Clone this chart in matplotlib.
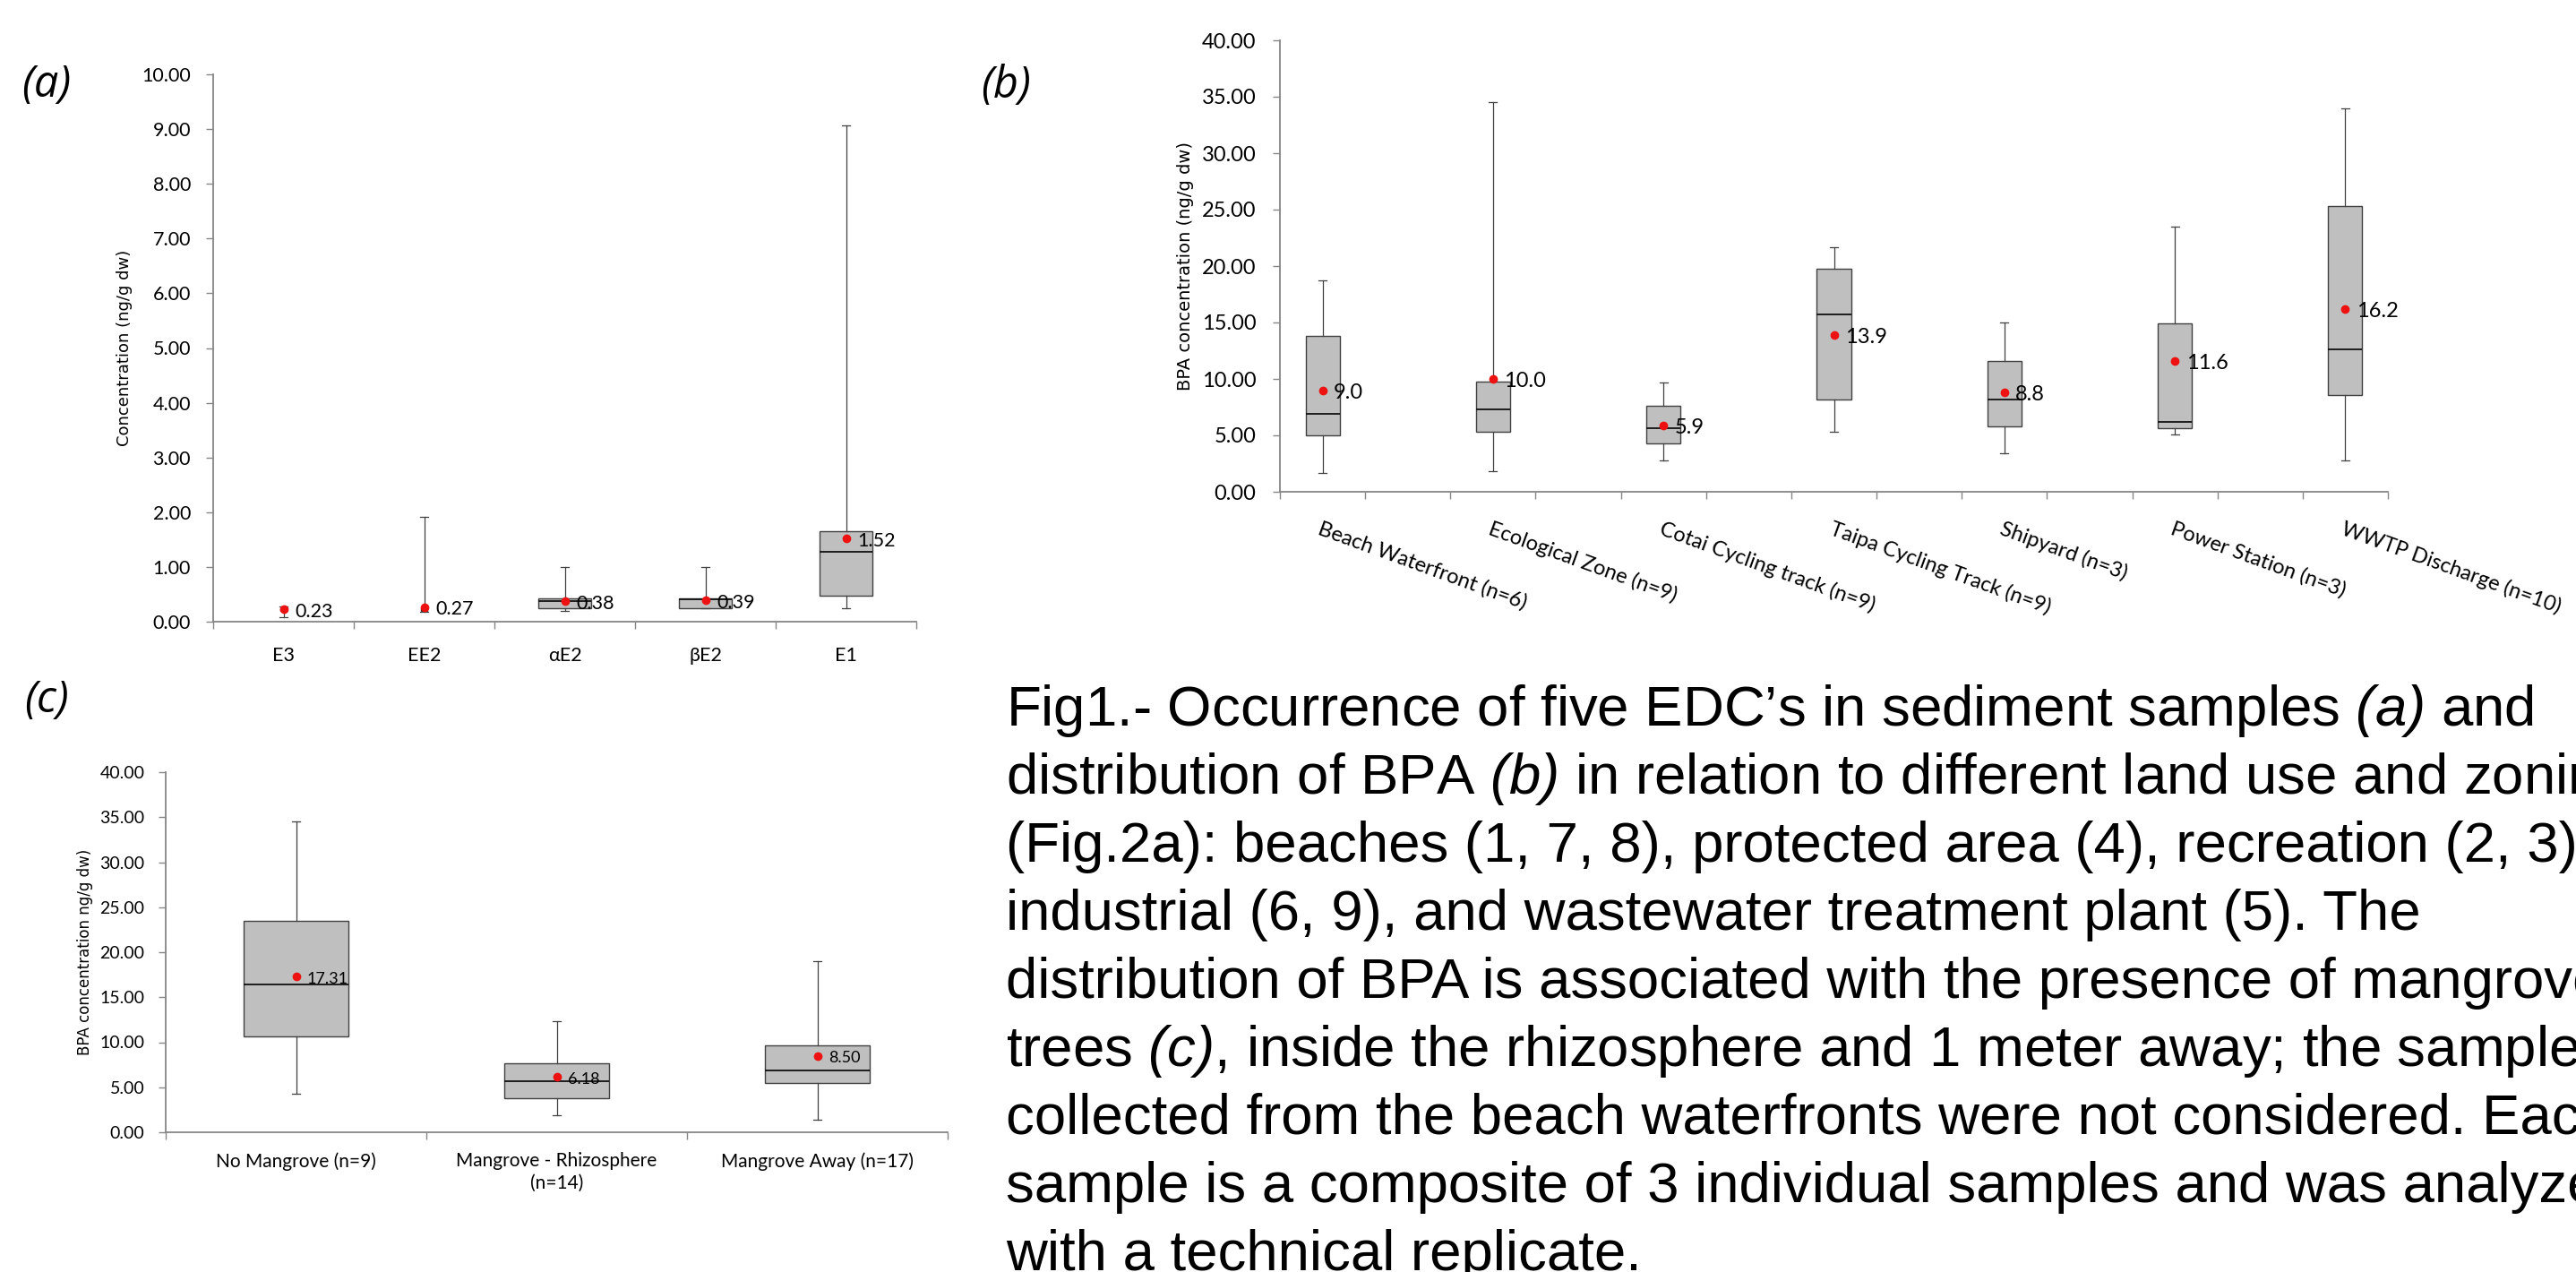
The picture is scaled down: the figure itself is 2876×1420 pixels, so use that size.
import numpy as np
import matplotlib
matplotlib.use("Agg")
import matplotlib.pyplot as plt

# panel (a) - five EDCs
a_labels = ["E3", "EE2", "αE2", "βE2", "E1"]
a_min = [0.08, 0.18, 0.20, 0.24, 0.25]
a_q1 = [0.20, 0.20, 0.24, 0.24, 0.48]
a_med = [0.22, 0.22, 0.38, 0.41, 1.27]
a_q3 = [0.25, 0.25, 0.43, 0.43, 1.66]
a_max = [0.28, 1.91, 1.00, 1.00, 9.06]
a_mean = [0.23, 0.27, 0.38, 0.39, 1.52]

# panel (b) - BPA by land use
b_labels = ["Beach Waterfront (n=6)", "Ecological Zone (n=9)", "Cotai Cycling track (n=9)",
            "Taipa Cycling Track (n=9)", "Shipyard (n=3)", "Power Station (n=3)",
            "WWTP Discharge (n=10)"]
b_min = [1.7, 1.8, 2.8, 5.3, 3.4, 5.1, 2.8]
b_q1 = [5.0, 5.3, 4.3, 8.2, 5.8, 5.6, 8.6]
b_med = [6.9, 7.3, 5.6, 15.7, 8.2, 6.2, 12.6]
b_q3 = [13.8, 9.8, 7.6, 19.8, 11.6, 14.9, 25.3]
b_max = [18.7, 34.5, 9.7, 21.7, 15.0, 23.5, 34.0]
b_mean = [9.0, 10.0, 5.9, 13.9, 8.8, 11.6, 16.2]

# panel (c) - BPA and mangroves
c_labels = ["No Mangrove (n=9)", "Mangrove - Rhizosphere\n(n=14)", "Mangrove Away (n=17)"]
c_min = [4.3, 1.9, 1.4]
c_q1 = [10.6, 3.8, 5.5]
c_med = [16.4, 5.7, 6.9]
c_q3 = [23.5, 7.7, 9.7]
c_max = [34.5, 12.3, 19.0]
c_mean = [17.31, 6.18, 8.50]

caption = [
    r"Fig1.- Occurrence of five EDC’s in sediment samples $(a)$ and",
    r"distribution of BPA $(b)$ in relation to different land use and zoning",
    r"(Fig.2a): beaches (1, 7, 8), protected area (4), recreation (2, 3),",
    r"industrial (6, 9), and wastewater treatment plant (5). The",
    r"distribution of BPA is associated with the presence of mangrove",
    r"trees $(c)$, inside the rhizosphere and 1 meter away; the samples",
    r"collected from the beach waterfronts were not considered. Each",
    r"sample is a composite of 3 individual samples and was analyzed",
    r"with a technical replicate.",
]

# the $...$ parts of the caption are the italic panel references
plt.rcParams["mathtext.fontset"] = "custom"
plt.rcParams["mathtext.rm"] = "Liberation Sans:italic"
plt.rcParams["mathtext.it"] = "Liberation Sans:italic"

TICKFONT = ["Lato", "DejaVu Sans"]
AXCOL = "#868686"
W, H = 2876, 1420


def px_rect(x0, y0, x1, y1):
    return [x0 / W, 1 - y1 / H, (x1 - x0) / W, (y1 - y0) / H]


def boxpanel(ax, lo, q1, med, q3, hi, means, width, capw, ymax, ystep, tsize, msize, fmt):
    pos = np.arange(len(med))
    stats = []
    for i in range(len(med)):
        stats.append(dict(whislo=lo[i], q1=q1[i], med=med[i], q3=q3[i], whishi=hi[i], fliers=[]))
    ax.bxp(stats, positions=pos, widths=width, capwidths=capw, patch_artist=True,
           showfliers=False, manage_ticks=False,
           boxprops=dict(facecolor="#BFBFBF", edgecolor="#404040", linewidth=1.0),
           medianprops=dict(color="#111111", linewidth=1.3),
           whiskerprops=dict(color="#404040", linewidth=0.9),
           capprops=dict(color="#404040", linewidth=0.9))
    ax.plot(pos, means, "o", color="#EE1111", ms=6, zorder=5, clip_on=False)
    for p, m in zip(pos, means):
        ax.annotate(fmt.format(m), (p, m), xytext=(9, -2), textcoords="offset points",
                    va="center", ha="left", fontsize=msize, family=TICKFONT, zorder=6)
    ax.set_ylim(0, ymax)
    ax.set_yticks(np.arange(0, ymax + 0.001, ystep))
    ax.set_yticklabels(["%.2f" % v for v in np.arange(0, ymax + 0.001, ystep)],
                       family=TICKFONT, fontsize=tsize)
    for s in ["top", "right"]:
        ax.spines[s].set_visible(False)
    for s in ["left", "bottom"]:
        ax.spines[s].set_color(AXCOL)
        ax.spines[s].set_linewidth(1.3)
    ax.tick_params(axis="y", which="major", direction="out", length=6, width=1.0, color=AXCOL)
    ax.tick_params(axis="x", which="major", length=0)
    ax.tick_params(axis="x", which="minor", direction="out", length=6, width=1.0, color=AXCOL)
    return pos


fig = plt.figure(figsize=(W / 100, H / 100), dpi=100)

# (a)  E3 and EE2 have a collapsed box, only whiskers show
axa = fig.add_axes(px_rect(238, 83, 1023, 694))
pos = boxpanel(axa, a_min, a_q1, a_med, a_q3, a_max, a_mean, [0.05, 0.05, 0.38, 0.38, 0.38],
               0.057, 10, 1, 15.5, 15.5, "{:.2f}")
axa.set_xlim(-0.5, 4.5)
axa.set_xticks(np.arange(-0.5, 4.6, 1), minor=True)
axa.set_xticks(pos)
axa.set_xticklabels(a_labels, family=TICKFONT, fontsize=15.5)
axa.tick_params(axis="x", which="major", pad=20)
axa.tick_params(axis="y", pad=12)
axa.set_ylabel("Concentration (ng/g dw)", family="DejaVu Sans", fontsize=13, va="center")
axa.yaxis.set_label_coords(-0.126, 0.5)

# (b)
axb = fig.add_axes(px_rect(1429, 45, 2666, 549))
pos = boxpanel(axb, b_min, b_q1, b_med, b_q3, b_max, b_mean, 0.2, 0.047, 40, 5, 17, 17, "{:.1f}")
axb.set_xlim(-0.25, 6.25)
axb.set_xticks(np.arange(-0.25, 6.26, 0.5), minor=True)
axb.set_xticks(pos)
axb.set_xticklabels(b_labels, family=TICKFONT, fontsize=17, rotation=-20,
                    ha="left", va="top", rotation_mode="anchor")
axb.tick_params(axis="x", which="major", pad=22)
axb.tick_params(axis="y", pad=13)
axb.set_ylabel("BPA concentration (ng/g dw)", family="DejaVu Sans", fontsize=14, va="center")
axb.yaxis.set_label_coords(-0.085, 0.5)

# (c)
axc = fig.add_axes(px_rect(185, 862, 1058, 1264))
pos = boxpanel(axc, c_min, c_q1, c_med, c_q3, c_max, c_mean, 0.4, 0.031, 40, 5, 14, 13, "{:.2f}")
axc.set_xlim(-0.5, 2.5)
axc.set_xticks(np.arange(-0.5, 2.6, 1), minor=True)
axc.set_xticks(pos)
axc.set_xticklabels(c_labels, family=TICKFONT, fontsize=15, linespacing=1.3)
axc.tick_params(axis="x", which="major", pad=16)
axc.tick_params(axis="y", pad=11)
axc.set_ylabel("BPA concentration ng/g dw)", family="DejaVu Sans", fontsize=12, va="center")
axc.yaxis.set_label_coords(-0.103, 0.5)

# panel letters
for lab, x, y in [("(a)", 24, 95), ("(b)", 1095, 96), ("(c)", 27, 782)]:
    fig.text(x / W, 1 - y / H, lab, family=["Open Sans", "DejaVu Sans"], style="italic",
             fontsize=35, ha="left", va="center")

# caption, one line at a time, runs off the right edge like the original
for i, line in enumerate(caption):
    fig.text(1123 / W, 1 - (810 + i * 76) / H, line, family="Liberation Sans",
             fontsize=45.7, ha="left", va="baseline")

fig.savefig("out.png", dpi=100)
